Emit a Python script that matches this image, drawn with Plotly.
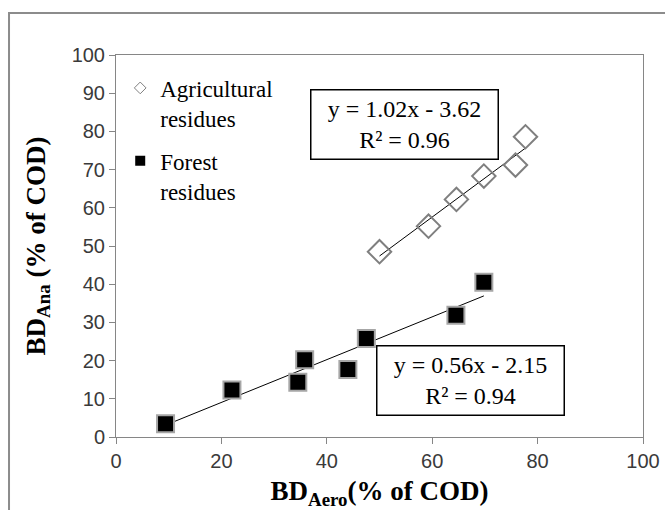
import numpy as np
import plotly.graph_objs as go

# Agricultural residues
agri_x = [50.0, 59.3, 64.6, 69.8, 75.8, 77.7]
agri_y = [48.5, 55.2, 62.2, 68.3, 71.2, 78.6]
agri_fit = (1.02, -3.62)

# Forest residues
forest_x = [9.4, 22.0, 34.5, 35.8, 44.0, 47.5, 64.5, 69.8]
forest_y = [3.5, 12.3, 14.3, 20.2, 17.7, 25.8, 31.9, 40.5]
forest_fit = (0.56, -2.15)

tick_vals_x = [0, 20, 40, 60, 80, 100]
tick_vals_y = [0, 10, 20, 30, 40, 50, 60, 70, 80, 90, 100]

serif = "Liberation Serif, Times New Roman, serif"
sans = "Liberation Sans, Arial, sans-serif"


def trend(xs, fit):
    xr = np.array([min(xs), max(xs)])
    return xr, fit[0] * xr + fit[1]


fig = go.Figure()

tx, ty = trend(agri_x, agri_fit)
fig.add_trace(go.Scatter(x=tx, y=ty, mode="lines", line=dict(color="black", width=1),
                         showlegend=False, hoverinfo="skip"))
tx, ty = trend(forest_x, forest_fit)
fig.add_trace(go.Scatter(x=tx, y=ty, mode="lines", line=dict(color="black", width=1),
                         showlegend=False, hoverinfo="skip"))

fig.add_trace(go.Scatter(x=agri_x, y=agri_y, mode="markers", showlegend=False,
                         marker=dict(symbol="diamond-open", size=18, color="#7f7f7f",
                                     line=dict(width=2, color="#7f7f7f"))))
fig.add_trace(go.Scatter(x=forest_x, y=forest_y, mode="markers", showlegend=False,
                         marker=dict(symbol="square", size=17, color="black",
                                     line=dict(width=2, color="#a6a6a6"))))

# legend-only entries with small symbols
fig.add_trace(go.Scatter(x=[None], y=[None], mode="markers", name="Agricultural<br>residues",
                         legendgroup="agri",
                         marker=dict(symbol="diamond-open", size=9, color="#7f7f7f",
                                     line=dict(width=1, color="#7f7f7f"))))
fig.add_trace(go.Scatter(x=[None], y=[None], mode="markers", name="Forest<br>residues",
                         legendgroup="forest",
                         marker=dict(symbol="square", size=10, color="black")))

fig.add_annotation(x=54.8, y=81.9, xref="x", yref="y", showarrow=False,
                   text="y = 1.02x - 3.62<br>R² = 0.96", width=182, height=64,
                   font=dict(family=serif, size=24, color="black"),
                   bordercolor="black", borderwidth=1.5, borderpad=2, bgcolor="white")
fig.add_annotation(x=67.3, y=14.7, xref="x", yref="y", showarrow=False,
                   text="y = 0.56x - 2.15<br>R² = 0.94", width=182, height=64,
                   font=dict(family=serif, size=24, color="black"),
                   bordercolor="black", borderwidth=1.5, borderpad=2, bgcolor="white")

# outer chart border (cropped on right and bottom)
fig.add_shape(type="rect", xref="paper", yref="paper", x0=-0.203, y0=-0.4, x1=1.2, y1=1.11,
              line=dict(color="#8c8c8c", width=2), layer="below")

fig.update_layout(
    width=665, height=510, autosize=False,
    margin=dict(l=116, r=22, t=55, b=73),
    paper_bgcolor="white", plot_bgcolor="white",
    legend=dict(x=0.008, y=0.97, xanchor="left", yanchor="top", valign="top",
                font=dict(family=serif, size=23, color="black"),
                bgcolor="rgba(0,0,0,0)", tracegroupgap=10, itemwidth=30),
    xaxis=dict(range=[0, 100], tickvals=tick_vals_x, showgrid=False, zeroline=False,
               automargin=False, ticklabeloverflow="allow",
               showline=True, linecolor="#868686", linewidth=1, mirror=True,
               ticks="outside", ticklen=6, tickcolor="#868686",
               tickfont=dict(family=sans, size=20, color="#3a3a3a"),
               title=dict(text="<b>BD<sub>Aero</sub>(% of COD)</b>", standoff=18,
                          font=dict(family=serif, size=27, color="black"))),
    yaxis=dict(range=[0, 100], tickvals=tick_vals_y, showgrid=False, zeroline=False,
               automargin=False, ticklabeloverflow="allow",
               showline=True, linecolor="#868686", linewidth=1, mirror=True,
               ticks="outside", ticklen=6, tickcolor="#868686",
               tickfont=dict(family=sans, size=20, color="#3a3a3a"),
               title=dict(text="<b>BD<sub>Ana</sub> (% of COD)</b>", standoff=18,
                          font=dict(family=serif, size=27, color="black"))),
)

# drop the page's default body margin so the 665x510 figure fills the window
fig.write_html("out.html", config={"displayModeBar": False},
               post_script="document.body.style.margin='0';")
